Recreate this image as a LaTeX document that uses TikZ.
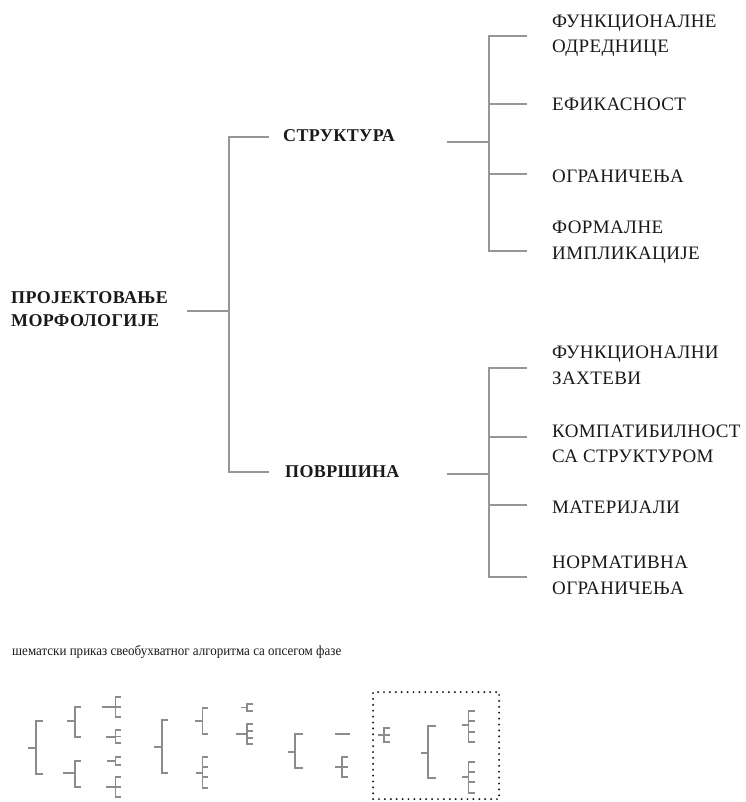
\documentclass[tikz,border=0pt]{standalone}
\usepackage{fontspec}
\setmainfont{Liberation Serif}
\newfontfamily\spacedfont[LetterSpace=2]{Liberation Serif}
\newfontfamily\captfont[FakeStretch=0.93]{Liberation Serif}
\definecolor{linegray}{RGB}{150,150,150}
\definecolor{minigray}{RGB}{140,140,140}
\definecolor{inkc}{RGB}{25,25,25}
\tikzset{
  conn/.style={draw=linegray, line width=1.6pt},
  mini/.style={draw=minigray, line width=1.6pt, line cap=rect},
  leaf/.style={anchor=north west, inner sep=0pt, align=left,
    font=\spacedfont\fontsize{19}{25.5}\selectfont, text=inkc},
  head/.style={anchor=north west, inner sep=0pt, align=left,
    font=\spacedfont\fontsize{18}{23}\selectfont\bfseries, text=inkc},
  capt/.style={anchor=base west, inner sep=0pt,
    font=\captfont\fontsize{14}{16}\selectfont, text=inkc},
  dotbox/.style={draw=inkc, line width=2.2pt, line cap=round,
    dash pattern=on 0pt off 5.9pt, inner sep=0pt, anchor=north west}
}
% #1 spine x, #2 top y, #3 bottom y, #4 prong length, #5 prong ys, #6 stub y, #7 stub left x
\newcommand\mycomb[7]{%
  \draw[mini] (#1,#2) -- (#1,#3);
  \foreach \py in {#5} {\draw[mini] (#1,\py) -- ({#1+#4},\py);}
  \draw[mini] (#7,#6) -- (#1,#6);
}
\begin{document}
\begin{tikzpicture}[x=1pt,y=-1pt]
\useasboundingbox (0,0) rectangle (745,802);

% ---------- main tree ----------
\node[head] (root) at (11,291.2) {ПРОЈЕКТОВАЊЕ\\МОРФОЛОГИЈЕ};
\node[head] (str) at (283,129.5) {СТРУКТУРА};
\node[head] (pov) at (285,465) {ПОВРШИНА};

\node[leaf] (l1) at (552,14.5) {ФУНКЦИОНАЛНЕ\\ОДРЕДНИЦЕ};
\node[leaf] (l2) at (552,97.8) {ЕФИКАСНОСТ};
\node[leaf] (l3) at (552,169.5) {ОГРАНИЧЕЊА};
\node[leaf] (l4) at (552,221.2) {ФОРМАЛНЕ\\ИМПЛИКАЦИЈЕ};
\node[leaf] (l5) at (552,346.2) {ФУНКЦИОНАЛНИ\\ЗАХТЕВИ};
\node[leaf] (l6) at (552,424.5) {КОМПАТИБИЛНОСТ\\СА СТРУКТУРОМ};
\node[leaf] (l7) at (552,501.2) {МАТЕРИЈАЛИ};
\node[leaf] (l8) at (552,556.2) {НОРМАТИВНА\\ОГРАНИЧЕЊА};

\coordinate (r0) at (187,311);
\coordinate (r1) at (229,311);
\coordinate (s0) at (269,137);
\coordinate (p0) at (269,472);
\draw[conn] (r0) -- (r1);
\draw[conn] (s0) -| (r1) |- (p0);

\coordinate (sa) at (447,142);
\coordinate (sb) at (489,142);
\coordinate (f1) at (527,36);
\coordinate (f2) at (527,104);
\coordinate (f3) at (527,174);
\coordinate (f4) at (527,251);
\draw[conn] (sa) -- (sb);
\draw[conn] (f1) -| (sb) |- (f4);
\draw[conn] (sb |- f2) -- (f2);
\draw[conn] (sb |- f3) -- (f3);

\coordinate (pa) at (447,474);
\coordinate (pb) at (489,474);
\coordinate (g1) at (527,368);
\coordinate (g2) at (527,437);
\coordinate (g3) at (527,505);
\coordinate (g4) at (527,577);
\draw[conn] (pa) -- (pb);
\draw[conn] (g1) -| (pb) |- (g4);
\draw[conn] (pb |- g2) -- (g2);
\draw[conn] (pb |- g3) -- (g3);

% ---------- caption ----------
\node[capt] (cap) at (12,655) {шематски приказ свеобухватног алгоритма са опсегом фазе};

% ---------- schematic ----------
% group 1
\mycomb{36}{721}{774}{6}{721,774}{748}{29}
\mycomb{75}{707}{737}{5}{707,737}{721}{68}
\mycomb{75}{761}{787}{5}{761,787}{773}{64}
\mycomb{115.5}{697}{717}{4.5}{697,707,717}{707}{103}
\mycomb{115.5}{730}{743}{4.5}{730,736.5,743}{737}{107}
\mycomb{115.5}{757}{765}{4.5}{757,765}{761}{108}
\mycomb{115.5}{777}{797}{4.5}{777,787,797}{787}{107}
% group 2
\mycomb{162}{720}{773}{5}{720,773}{747}{155}
\mycomb{202.5}{708}{734}{5}{708,734}{721}{196}
\mycomb{202.5}{757}{788}{5}{757,767,777,788}{773}{197}
\mycomb{247}{704}{711}{5}{704,711}{707.5}{241.5}
\mycomb{247}{724}{744}{5}{724,731,738,744}{734}{237}
% group 3
\mycomb{295}{734}{768}{7}{734,768}{752}{289}
\draw[mini] (336,734) -- (349,734);
\mycomb{342}{757}{777}{5}{757,767,777}{767}{336}
% dotted box
\node[dotbox, minimum width=126pt, minimum height=107pt] (box) at (372,691) {};
\mycomb{384}{728}{742}{5.5}{728,735,742}{735}{379}
\mycomb{428}{726}{778}{7}{726,778}{753}{422}
\mycomb{468.5}{711}{742}{6}{711,721,732,742}{725}{463}
\mycomb{468.5}{762}{793}{6}{762,772,782,793}{777}{463}
\end{tikzpicture}
\end{document}
